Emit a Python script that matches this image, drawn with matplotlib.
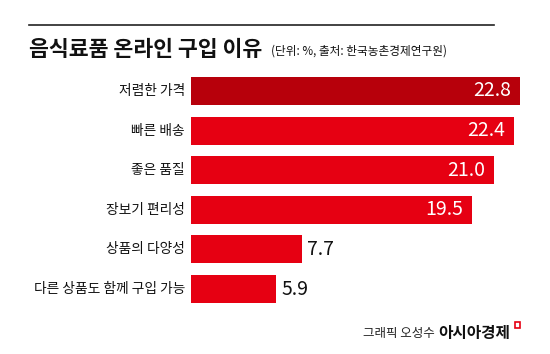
import matplotlib
matplotlib.use('Agg')
import matplotlib.pyplot as plt
from matplotlib.patches import Rectangle

plt.rcParams['font.family'] = ['Noto Sans CJK KR', 'DejaVu Sans']

categories = ['저렴한 가격', '빠른 배송', '좋은 품질', '장보기 편리성', '상품의 다양성', '다른 상품도 함께 구입 가능']
values = [22.8, 22.4, 21.0, 19.5, 7.7, 5.9]
bar_colors = ['#B7000B', '#E60012', '#E60012', '#E60012', '#E60012', '#E60012']

W, H = 550, 354
fig = plt.figure(figsize=(W / 100, H / 100), dpi=100)

# axes placed in pixel terms: left edge of bars at x=191, bars from y=77 to y=303
ax_left, ax_right = 191, 550
ax_top, ax_bottom = 77, 303
ax = fig.add_axes([ax_left / W, 1 - ax_bottom / H, (ax_right - ax_left) / W, (ax_bottom - ax_top) / H])

px_per_unit = (520 - 191) / 22.8
bar_h = 0.707
ypos = list(range(len(categories)))
ax.barh(ypos, values, height=bar_h, color=bar_colors)
ax.set_xlim(0, (ax_right - ax_left) / px_per_unit)
ax.set_ylim(len(categories) - 1 + bar_h / 2, -bar_h / 2)
ax.axis('off')

for i, (cat, v) in enumerate(zip(categories, values)):
    ax.text(-6 / px_per_unit, i, cat, ha='right', va='center', fontsize=9.9, color='#111111')
    if v > 15:
        ax.text(v - 9 / px_per_unit, i, f'{v:.1f}', ha='right', va='center',
                fontsize=14, color='white')
    else:
        ax.text(v + 5 / px_per_unit, i, f'{v:.1f}', ha='left', va='center',
                fontsize=14, color='#111111')

# top rule
fig.add_artist(plt.Line2D([29 / W, 494 / W], [1 - 25 / H, 1 - 25 / H], color='#222222', lw=1.2))

# title + unit/source
fig.text(29 / W, 1 - 50 / H, '음식료품 온라인 구입 이유', fontsize=15.6, fontweight='bold',
         ha='left', va='center', color='#111111')
fig.text(271 / W, 1 - 51 / H, '(단위: %, 출처: 한국농촌경제연구원)', fontsize=8.4,
         ha='left', va='center', color='#111111')

# footer
fig.text(363 / W, 1 - 333 / H, '그래픽 오성수', fontsize=9, ha='left', va='center', color='#222222')
fig.text(438 / W, 1 - 333 / H, '아시아경제', fontsize=11.3, fontweight='bold', ha='left', va='center', color='#111111')
fig.add_artist(Rectangle((515 / W, 1 - 328 / H), 5 / W, 6 / H, fill=False, edgecolor='#E60012', lw=1.2))

plt.savefig('out.png', dpi=100)
